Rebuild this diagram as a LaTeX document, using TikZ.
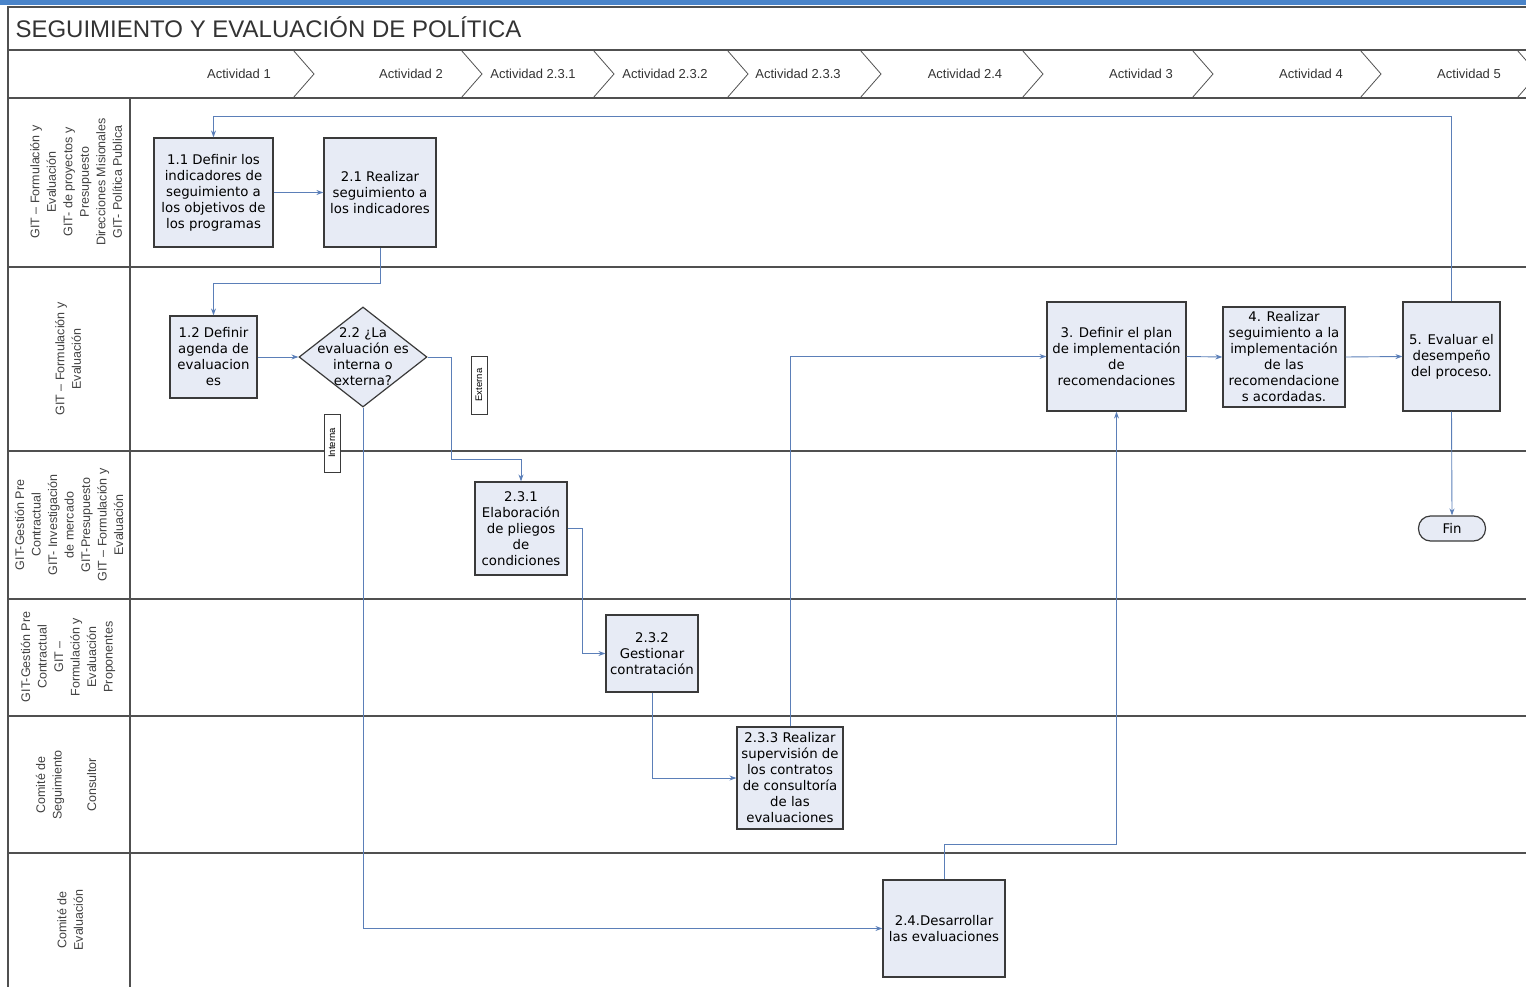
\documentclass[tikz,border=0pt]{standalone}
\usepackage{fontspec}
\setmainfont{Liberation Sans}
\newfontfamily\boxfont{DejaVu Sans}
\usepackage{tikz}
\usetikzlibrary{calc}
\usetikzlibrary{arrows.meta}
\usetikzlibrary{shapes.geometric}

\definecolor{topblue}{HTML}{4A84C9}
\definecolor{flowblue}{HTML}{5B7FB8}
\definecolor{boxfill}{HTML}{E7EBF5}
\definecolor{lanegray}{HTML}{505050}
\definecolor{boxedge}{HTML}{3A3A3A}

\tikzset{
	laneline/.style={line width=1.4pt,draw=lanegray},
	chevron/.style={line width=0.8pt,draw=lanegray},
	acthead/.style={font=\fontsize{13}{15}\selectfont,text=black!80},
	lanelabel/.style={rotate=90,align=center,text=black!75,font=\fontsize{12.5}{16.5}\selectfont},
	actbox/.style={draw=boxedge,line width=1.2pt,fill=boxfill,align=center,inner sep=1pt,
		font=\boxfont\fontsize{13.3}{16}\selectfont},
	decision/.style={diamond,draw=boxedge,line width=1.2pt,fill=boxfill,inner sep=0pt,
		minimum width=128pt,minimum height=100pt},
	decisiontext/.style={align=center,font=\boxfont\fontsize{13.3}{16}\selectfont},
	terminal/.style={draw=boxedge,line width=1.2pt,fill=boxfill,rounded corners=12pt,
		minimum width=67pt,minimum height=25pt,font=\boxfont\fontsize{13.3}{16}\selectfont},
	branchtag/.style={rotate=90,draw=boxedge,line width=0.9pt,fill=white,inner sep=1pt,
		minimum width=58pt,minimum height=16pt,font=\fontsize{9.5}{10}\selectfont},
	flow/.style={draw=flowblue,line width=0.9pt,-{Stealth[length=7pt,width=5pt]}}
}

\begin{document}
\begin{tikzpicture}[x=1pt,y=-1pt]
	\useasboundingbox (0,0) rectangle (1526,987);
	\fill[topblue] (0,0) rectangle (1526,5);

	% marco y carriles
	\draw[laneline] (8,987) -- (8,7) -- (1526,7);
	\draw[laneline] (8,50) -- (1526,50);
	\draw[laneline] (8,98) -- (1526,98);
	\foreach \y in {267,451,599,716,853}
		\draw[laneline] (8,\y) -- (1526,\y);
	\draw[laneline] (130,98) -- (130,987);

	\node[anchor=west,font=\fontsize{24}{28}\selectfont,text=black!80] (title) at (12,27) {SEGUIMIENTO Y EVALUACIÓN DE POLÍTICA};

	% cabecera de actividades
	\foreach \x in {293,461,593,727,860,1022,1192,1360,1517}
		\draw[chevron] (\x,50) -- (\x+21,74) -- (\x,98);
	\foreach \x/\t [count=\i] in {239/Actividad 1,411/Actividad 2,533/Actividad 2.3.1,665/Actividad 2.3.2,
		798/Actividad 2.3.3,965/Actividad 2.4,1141/Actividad 3,1311/Actividad 4,1469/Actividad 5}
		\node[acthead] (act\i) at (\x,74) {\t};

	% responsables
	\node[lanelabel] (lane1) at (76,182) {GIT -- Formulación y\\Evaluación\\GIT- de proyectos y\\Presupuesto\\Direcciones Misionales\\GIT- Política Publica};
	\node[lanelabel] (lane2) at (68,359) {GIT -- Formulación y\\Evaluación};
	\node[lanelabel] (lane3) at (69,525) {GIT-Gestión Pre\\Contractual\\GIT- Investigación\\de mercado\\GIT-Presupuesto\\GIT -- Formulación y\\Evaluación};
	\node[lanelabel] (lane4) at (68,657) {GIT-Gestión Pre\\Contractual\\GIT --\\Formulación y\\Evaluación\\Proponentes};
	\node[lanelabel] (lane5) at (66,785) {Comité de\\Seguimiento\\[18pt]Consultor};
	\node[lanelabel] (lane6) at (70,920) {Comité de\\Evaluación};

	% actividades
	\node[actbox,minimum width=119pt,minimum height=109pt] (b11) at (213.5,192.5) {1.1 Definir los\\indicadores de\\seguimiento a\\los objetivos de\\los programas};
	\node[actbox,minimum width=112pt,minimum height=109pt] (b21) at (380,192.5) {2.1 Realizar\\seguimiento a\\los indicadores};
	\node[actbox,minimum width=87pt,minimum height=82pt] (b12) at (213.5,357) {1.2 Definir\\agenda de\\evaluacion\\es};
	\node[decision,label={[decisiontext]center:2.2 ¿La\\evaluación es\\interna o\\externa?}] (d22) at (363,357) {};
	\node[actbox,minimum width=139pt,minimum height=109pt] (b3) at (1116.5,356.5) {3. Definir el plan\\de implementación\\de\\recomendaciones};
	\node[actbox,minimum width=122pt,minimum height=100pt] (b4) at (1284,357) {4. Realizar\\seguimiento a la\\implementación\\de las\\recomendacione\\s acordadas.};
	\node[actbox,minimum width=97pt,minimum height=109pt] (b5) at (1451.5,356.5) {5. Evaluar el\\desempeño\\del proceso.};
	\node[actbox,minimum width=92pt,minimum height=93pt] (b231) at (521,528.5) {2.3.1\\Elaboración\\de pliegos\\de\\condiciones};
	\node[terminal] (fin) at (1452,528.5) {Fin};
	\node[actbox,minimum width=92pt,minimum height=77pt] (b232) at (652,653.5) {2.3.2\\Gestionar\\contratación};
	\node[actbox,minimum width=106pt,minimum height=102pt] (b233) at (790,778) {2.3.3 Realizar\\supervisión de\\los contratos\\de consultoría\\de las\\evaluaciones};
	\node[actbox,minimum width=122pt,minimum height=97pt] (b24) at (944,928.5) {2.4.Desarrollar\\las evaluaciones};

	% flujo
	\draw[flow] (b11) -- (b21);
	\draw[flow] (b21.south) -- ++(0,36) -| (b12.north);
	\draw[flow] (b12) -- (d22);
	\draw[flow] (d22.east) -- ++(24,0) |- ([yshift=22pt]b231.north) -- (b231.north);
	\draw[flow] (b231.east) -- ++(15,0) |- (b232.west);
	\draw[flow] (b232.south) |- (b233.west);
	\draw[flow] (b233.north) |- (b3.west);
	\draw[flow] (d22.south) |- (b24.west);
	\draw[flow] (b24.north) -- ++(0,-35) -| (b3.south);
	\draw[flow] (b3.east) -- (b4.west);
	\draw[flow] (b4.east) -- (b5.west);
	\draw[flow] (b5.north) -- ++(0,-185) -| (b11.north);
	\draw[flow] (b5.south) -- (fin.north);

	\node[branchtag] (externa) at (479,385) {Externa};
	\node[branchtag] (interna) at (332,443) {Interna};
\end{tikzpicture}
\end{document}
